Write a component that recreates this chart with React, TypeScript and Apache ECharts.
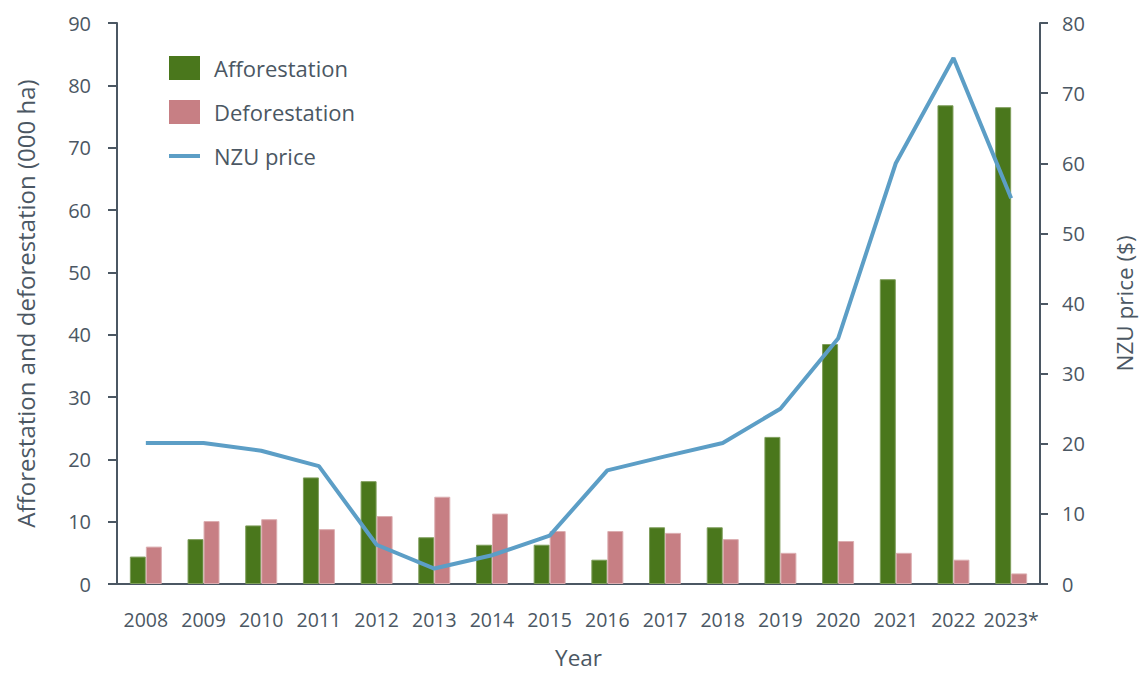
import React, { useEffect, useRef } from "react";
import * as echarts from "echarts";

const years = ["2008", "2009", "2010", "2011", "2012", "2013", "2014", "2015", "2016", "2017", "2018", "2019", "2020", "2021", "2022", "2023*"];
const afforestation = [4.4, 7.2, 9.4, 17.1, 16.5, 7.5, 6.3, 6.3, 3.9, 9.1, 9.1, 23.6, 38.5, 48.9, 76.8, 76.5];
const deforestation = [6.0, 10.1, 10.4, 8.8, 10.9, 14.0, 11.3, 8.5, 8.5, 8.2, 7.2, 5.0, 6.9, 5.0, 3.9, 1.7];
const nzuPrice = [20.1, 20.1, 19.0, 16.8, 5.6, 2.2, 4.1, 6.9, 16.2, 18.2, 20.1, 25.0, 35.0, 60.0, 75.0, 55.0];

const AXIS = "#4b5763";
const TEXT = "#4b5763";
const FONT = "'Open Sans', 'Noto Sans', sans-serif";
const LINE_ICON =
  "path://M0,0L0.01,0L0.01,0.01Z M0,10L31,10L31,14L0,14Z M30.99,23.99L31,23.99L31,24Z";

export default function App() {
  const ref = useRef<HTMLDivElement>(null);
  useEffect(() => {
    if (!ref.current) return;
    const chart = echarts.init(ref.current, null, { renderer: "svg" });
    chart.setOption({
      animation: false,
      textStyle: { fontFamily: FONT },
      grid: { left: 117, right: 101, top: 23, bottom: 71 },
      legend: {
        orient: "vertical",
        left: 169,
        top: 56,
        padding: 0,
        itemWidth: 31,
        itemHeight: 24,
        itemGap: 20,
        textStyle: { fontSize: 22, color: TEXT, fontFamily: FONT, padding: [0, 0, 0, 9] },
        data: [
          { name: "Afforestation", icon: "rect", itemStyle: { borderWidth: 0 } },
          { name: "Deforestation", icon: "rect", itemStyle: { borderWidth: 0 } },
          { name: "NZU price", icon: LINE_ICON, itemStyle: { borderWidth: 0 } },
        ],
      },
      xAxis: {
        type: "category",
        data: years,
        name: "Year",
        nameLocation: "middle",
        nameGap: 62,
        nameTextStyle: { fontSize: 22.5, color: TEXT },
        axisLine: { lineStyle: { color: AXIS, width: 2 } },
        axisTick: { length: 8, lineStyle: { color: AXIS, width: 2 } },
        axisLabel: { fontSize: 19.5, color: TEXT, margin: 25, interval: 0 },
      },
      yAxis: [
        {
          type: "value",
          min: 0,
          max: 90,
          interval: 10,
          name: "Afforestation and deforestation (000 ha)",
          nameLocation: "middle",
          nameGap: 80,
          nameTextStyle: { fontSize: 24, color: TEXT },
          axisLine: { show: true, lineStyle: { color: AXIS, width: 2 } },
          axisTick: { show: true, length: 9, lineStyle: { color: AXIS, width: 2 } },
          axisLabel: { fontSize: 20, color: TEXT, margin: 26 },
          splitLine: { show: false },
        },
        {
          type: "value",
          min: 0,
          max: 80,
          interval: 10,
          name: "NZU price ($)",
          nameLocation: "middle",
          nameGap: 73,
          nameTextStyle: { fontSize: 22.5, color: TEXT },
          axisLine: { show: true, lineStyle: { color: AXIS, width: 2 } },
          axisTick: { show: true, length: 8, lineStyle: { color: AXIS, width: 2 } },
          axisLabel: { fontSize: 20, color: TEXT, margin: 22 },
          splitLine: { show: false },
        },
      ],
      series: [
        {
          name: "Afforestation",
          type: "bar",
          data: afforestation,
          barWidth: 16,
          barGap: "0%",
          itemStyle: { color: "#4a771c", borderColor: "#7f9e5c", borderWidth: 1 },
        },
        {
          name: "Deforestation",
          type: "bar",
          data: deforestation,
          barWidth: 16,
          barGap: "0%",
          itemStyle: { color: "#c77f84", borderColor: "#dcaeb1", borderWidth: 1 },
        },
        {
          name: "NZU price",
          type: "line",
          yAxisIndex: 1,
          data: nzuPrice,
          symbol: "none",
          lineStyle: { color: "#5c9ec6", width: 4 },
          itemStyle: { color: "#5c9ec6" },
        },
      ],
    });
    return () => chart.dispose();
  }, []);
  return (
    <div
      ref={ref}
      style={{ position: "absolute", left: 0, top: 0, width: 1144, height: 674 }}
    />
  );
}
